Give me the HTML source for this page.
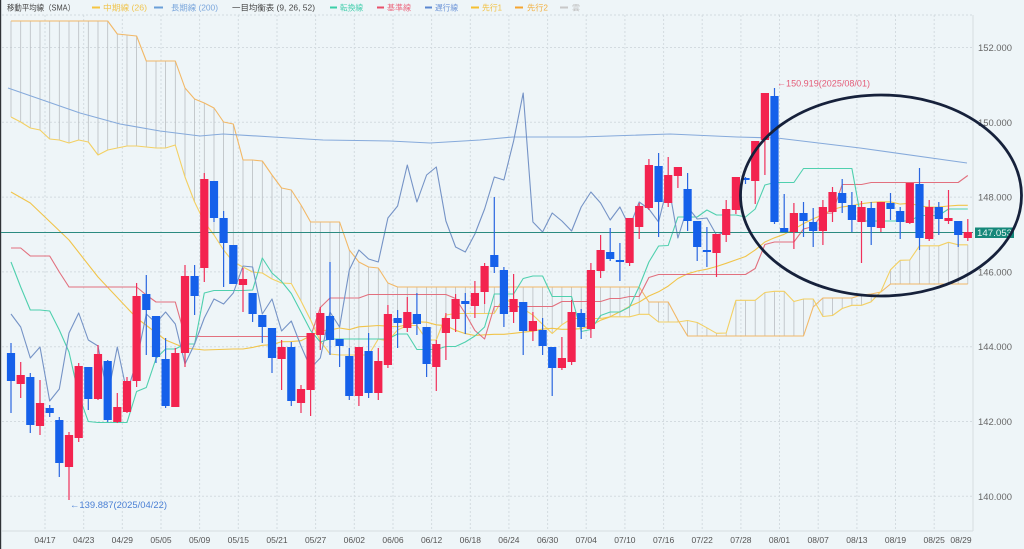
<!DOCTYPE html>
<html><head><meta charset="utf-8"><style>
html,body{margin:0;padding:0;background:#eef5f8;}
svg{display:block;font-family:"Liberation Sans","Noto Sans CJK JP",sans-serif;}
</style></head><body>
<svg width="1024" height="549" viewBox="0 0 1024 549" xmlns="http://www.w3.org/2000/svg">
<rect x="0" y="0" width="1024" height="549" fill="#eef5f8"/>
<rect x="0" y="0" width="1.2" height="549" fill="#2f3337"/>
<!-- grid -->
<g stroke="#d3dbe0" stroke-width="1" stroke-dasharray="2,2" fill="none">
<path d="M2 15H973 M2 47.5H973 M2 122.3H973 M2 197.1H973 M2 271.9H973 M2 346.7H973 M2 421.5H973 M2 496.3H973"/>
<path d="M45 15V531 M83.7 15V531 M122.3 15V531 M161 15V531 M199.6 15V531 M238.3 15V531 M277 15V531 M315.6 15V531 M354.3 15V531 M393 15V531 M431.6 15V531 M470.3 15V531 M508.9 15V531 M547.6 15V531 M586.2 15V531 M624.9 15V531 M663.6 15V531 M702.2 15V531 M740.9 15V531 M779.5 15V531 M818.2 15V531 M856.9 15V531 M895.5 15V531 M934.2 15V531"/>
</g>
<path d="M973 15V531 M2 531H973" stroke="#d6dde1" stroke-width="1" fill="none"/>
<!-- cloud hatch -->
<path stroke="#b9bec2" stroke-width="0.8" fill="none" d="M11 117V21 M20.7 122V21 M30.3 128V21 M40 130V21 M49.7 139V21 M59.3 140V21 M69 143V21 M78.7 140V21 M88.3 142V21 M98 155V21 M107.7 150V21 M117.3 148V34 M127 146V35 M136.6 146V36 M146.3 147V61 M156 148V61 M165.6 148V61 M175.3 145V61 M185 177V88 M194.6 202V99 M204.3 222V103 M214 235V108 M223.6 250V122 M233.3 262V124 M243 267V160 M252.6 272V160 M262.3 273V161 M272 279V175 M281.6 283V188 M291.3 283.5V190 M301 301V205 M310.6 320V222 M320.3 341V222 M330 354V222 M339.6 355V222 M349.3 355V250 M358.9 355V262 M368.6 355V267 M378.3 339V268 M387.9 341V283 M397.6 330V287 M407.3 325.5V287 M416.9 325.5V287 M426.6 340V287 M436.3 340V287 M445.9 315V287 M455.6 313.5V287 M465.3 313.5V287 M474.9 313.5V287 M484.6 313.5V287 M494.3 313.3V287 M503.9 297.3V287 M513.6 304.8V287 M523.2 309V287 M532.9 315V287 M542.6 324.3V287 M552.2 333.5V287 M561.9 324.8V287 M571.6 318.5V287 M581.2 318.5V287 M590.9 318.5V287 M600.6 318.5V287 M610.2 316.8V287 M619.9 316.8V287 M629.6 316.8V287 M639.2 314.3V287 M648.9 314.3V302 M658.6 322V302 M668.2 322V302 M677.9 322V320 M687.6 320.5V336 M697.2 322.5V336 M706.9 327.8V336 M716.5 333.3V336 M726.2 333V336 M735.9 300.3V336 M745.5 300.3V336 M755.2 300.3V336 M764.9 292.5V336 M774.5 291.3V336 M784.2 291.3V336 M793.9 301.5V336 M803.5 299V336 M813.2 299V307 M822.9 316.5V298 M832.5 315.5V298 M842.2 308.5V298 M851.9 305.3V298 M861.5 305.3V295 M871.2 301.8V294 M880.9 291.5V292 M890.5 269.8V284 M900.2 260.3V284 M909.8 260V284 M919.5 245.8V284 M929.2 245.8V284 M938.8 245.8V284 M948.5 242.3V284 M958.2 244.8V284 M967.8 244.8V284"/>
<g fill="none" stroke-width="1.1" stroke-linejoin="round">
<!-- Senkou B -->
<polyline stroke="#f2b866" points="11,21 107.7,21 117.3,34 127,35 136.6,36 146.3,61 175.3,61 185,88 194.6,99 204.3,103 214,108 223.6,122 233.3,124 243,160 252.6,160 262.3,161 272,175 281.6,188 291.3,190 301,205 310.6,222 339.6,222 349.3,250 358.9,262 368.6,267 378.3,268 387.9,283 397.6,287 639.2,287 648.9,302 668.2,302 677.9,320 687.6,336 803.5,336 813.2,307 822.9,298 851.9,298 861.5,295 871.2,294 880.9,292 890.5,284 967.8,284"/>
<!-- Senkou A -->
<polyline stroke="#f3d063" points="11,117 20.7,122 30.3,128 40,130 49.7,139 59.3,140 69,143 78.7,140 88.3,142 98,155 107.7,150 117.3,148 127,146 136.6,146 146.3,147 156,148 165.6,148 175.3,145 185,177 194.6,202 204.3,222 214,235 223.6,250 233.3,262 243,267 252.6,272 262.3,273 272,279 281.6,283 291.3,283.5 301,301 310.6,320 320.3,341 330,354 339.6,355 349.3,355 358.9,355 368.6,355 378.3,339 387.9,341 397.6,330 407.3,325.5 416.9,325.5 426.6,340 436.3,340 445.9,315 455.6,313.5 465.3,313.5 474.9,313.5 484.6,313.5 494.3,313.3 503.9,297.3 513.6,304.8 523.2,309 532.9,315 542.6,324.3 552.2,333.5 561.9,324.8 571.6,318.5 581.2,318.5 590.9,318.5 600.6,318.5 610.2,316.8 619.9,316.8 629.6,316.8 639.2,314.3 648.9,314.3 658.6,322 668.2,322 677.9,322 687.6,320.5 697.2,322.5 706.9,327.8 716.5,333.3 726.2,333 735.9,300.3 745.5,300.3 755.2,300.3 764.9,292.5 774.5,291.3 784.2,291.3 793.9,301.5 803.5,299 813.2,299 822.9,316.5 832.5,315.5 842.2,308.5 851.9,305.3 861.5,305.3 871.2,301.8 880.9,291.5 890.5,269.8 900.2,260.3 909.8,260 919.5,245.8 929.2,245.8 938.8,245.8 948.5,242.3 958.2,244.8 967.8,244.8"/>
<!-- SMA200 -->
<polyline stroke="#86aadb" points="8,88 80,113 120,124 160,131 200,136 223,134 273,137 323,140 390,141 430,143 480,140 513,137 580,137 670,134 737,137 777,138 860,148 967,163"/>
<!-- SMA26 -->
<polyline stroke="#f1c44a" points="11,192 30.3,203 69,240 98,277 136.6,318 165.6,340 185,348 204.3,350 233.3,349 243,349 252.6,347.4 262.3,345.3 272,344.7 281.6,341.7 291.3,341.6 301,340.7 310.6,335.7 320.3,331 330,330 339.6,328 349.3,329.6 358.9,326.8 368.6,326.2 378.3,325.5 387.9,326.2 397.6,326.7 407.3,324.9 416.9,321.8 426.6,322.2 436.3,324.8 445.9,325.7 455.6,330.3 465.3,333.6 474.9,335.5 484.6,334.8 494.3,334.3 503.9,334.3 513.6,333.3 523.2,332.2 532.9,331.2 542.6,329.1 552.2,328.3 561.9,329.3 571.6,329.2 581.2,328.7 590.9,325.8 600.6,320.2 610.2,316.8 619.9,311.8 629.6,306.3 639.2,302.1 648.9,296 658.6,291.8 668.2,286.1 677.9,278.5 687.6,273.8 697.2,271 706.9,269.2 716.5,266.5 726.2,263.3 735.9,259.9 745.5,256.5 755.2,249.9 764.9,242 774.5,237.8 784.2,234.3 793.9,229.2 803.5,223.6 813.2,218.7 822.9,214.7 832.5,209.5 842.2,206.9 851.9,205.7 861.5,203.7 871.2,202.4 880.9,201.8 890.5,201.9 900.2,204.1 909.8,203.3 919.5,205.8 929.2,207.2 938.8,207.1 948.5,206 958.2,205.3 967.8,205.3"/>
<!-- Kijun -->
<polyline stroke="#e2707e" points="11,248 20.7,248 30.3,256 40,256 49.7,256 59.3,272 69,287 136.6,287 146.3,295 156,302 175.3,302 185,336.5 310.6,336.5 320.3,307.5 330,298 358.9,298 368.6,294.5 445.9,294.5 455.6,298.5 465.3,313.5 474.9,330.5 484.6,339 494.3,306.5 552.2,306.5 561.9,301.5 600.6,301.5 610.2,298.5 619.9,298.5 629.6,296.5 639.2,296.5 648.9,277.5 658.6,274.5 745.5,274.5 755.2,268.5 764.9,244.5 774.5,242 793.9,242 803.5,229 813.2,226.5 822.9,213.5 832.5,213 842.2,184.5 861.5,184.5 871.2,182.5 958.2,182.5 967.8,175.5"/>
<!-- Tenkan -->
<polyline stroke="#4fd0ae" points="11,262 20.7,287 30.3,310 40,310 49.7,311 59.3,330 69,352 78.7,395 88.3,421.5 98,422.5 127,422.5 136.6,391.5 146.3,387.5 156,358.5 165.6,349 175.3,349 185,344 194.6,344 204.3,293 214,290.5 243,290.5 252.6,290 262.3,258 272,273 281.6,281.5 291.3,293.5 301,312 310.6,330.5 320.3,342 330,339 387.9,339 397.6,334 407.3,334 416.9,349.5 436.3,349.5 445.9,346.5 455.6,346.5 465.3,342 474.9,336 484.6,327 494.3,294 513.6,294 523.2,278.5 532.9,276 542.6,276 552.2,296.5 571.6,296.5 581.2,331.5 590.9,329.5 600.6,315.5 610.2,312 619.9,312 629.6,307 639.2,286.5 648.9,262 658.6,246 668.2,245.5 677.9,217 697.2,217 706.9,210 716.5,215 735.9,215 745.5,217 755.2,209 764.9,185 774.5,182.5 793.9,182.5 803.5,168.5 851.9,168.5 861.5,221 909.8,221 919.5,215.5 938.8,215.5 948.5,209 967.8,209"/>
<!-- Chikou -->
<polyline stroke="#7593c6" points="11,314 20.7,327 30.3,358 40,347 49.7,401 59.3,389 69,333 78.7,313 88.3,340 98,346 107.7,396 117.3,347 127,393 136.6,361 146.3,314 156,323 165.6,312 175.3,324 185,364 194.6,344 204.3,318 214,299 223.6,304 233.3,293 243,266 252.6,267 262.3,314 272,299 281.6,331 291.3,321 301,346 310.6,368 320.3,358 330,312 339.6,327 349.3,270 358.9,250 368.6,259 378.3,262 387.9,218 397.6,206 407.3,165 416.9,202 426.6,175 436.3,167 445.9,221 455.6,247 465.3,252 474.9,234 484.6,209 494.3,177 503.9,180 513.6,141 523.2,93 532.9,222 542.6,232 552.2,213 561.9,221 571.6,231 581.2,207 590.9,192 600.6,203 610.2,220 619.9,207 629.6,227 639.2,202 648.9,209 658.6,222 668.2,183 677.9,238 687.6,207 697.2,219 706.9,218 716.5,235 726.2,232"/>
</g>
<!-- current price line -->
<path d="M1 232.5H973" stroke="#2b8a80" stroke-width="1"/>
<!-- candles -->
<path stroke="#f0305a" stroke-width="1.2" fill="none" d="M20.7 362V398 M40 380V435 M69 432V500 M78.7 363V442 M98 345V400 M117.3 393V423 M127 377V413 M136.6 283V387 M175.3 348V407 M185 265V367 M204.3 173V282 M243 268V312 M281.6 340V390 M301 385V413 M310.6 333V416 M320.3 307V350 M358.9 347V406 M378.3 348V400 M387.9 305V368 M407.3 297V332 M436.3 340V391 M445.9 313V360 M455.6 294V332 M474.9 281V318 M484.6 263V304 M513.6 274V323 M532.9 312V341 M561.9 337V370 M571.6 300V365 M590.9 263V338 M600.6 235V278 M629.6 218V266 M639.2 203V239 M648.9 159V210 M668.2 157V207 M677.9 167V188 M716.5 234V277 M726.2 200V242 M735.9 177V214 M755.2 141V204 M764.9 93V175 M793.9 203V249 M822.9 200V245 M832.5 187V222 M861.5 201V263 M880.9 202V232 M909.8 183V224 M929.2 200V241 M948.5 190V224 M967.8 219V241"/>
<path stroke="#2a66e0" stroke-width="1.2" fill="none" d="M11 343V413 M30.3 373V433 M49.7 405V417 M59.3 417V477 M88.3 367V410 M107.7 360V422 M146.3 275V355 M156 316V363 M165.6 338V408 M194.6 265V315 M214 181V222 M223.6 211V287 M233.3 245V284 M252.6 293V322 M262.3 315V343 M272 328V373 M291.3 342V406 M330 262V355 M339.6 339V367 M349.3 348V400 M368.6 333V398 M397.6 310V348 M416.9 293V335 M426.6 327V377 M465.3 293V334 M494.3 197V273 M503.9 267V327 M523.2 302V355 M542.6 318V355 M552.2 347V396 M581.2 309V339 M610.2 228V261 M619.9 243V281 M658.6 153V237 M687.6 173V231 M697.2 221V261 M706.9 227V267 M745.5 177V184 M774.5 88V224 M784.2 194V232 M803.5 202V237 M813.2 208V247 M842.2 179V213 M851.9 192V232 M871.2 202V245 M890.5 193V220 M900.2 207V239 M919.5 168V250 M938.8 202V235 M958.2 221V247"/>
<path fill="#f3234f" d="M16.6 375h8.2V384h-8.2Z M35.9 403h8.2V426h-8.2Z M64.9 435h8.2V467h-8.2Z M74.6 366h8.2V438h-8.2Z M93.9 354h8.2V399h-8.2Z M113.2 407h8.2V422h-8.2Z M122.9 381h8.2V412h-8.2Z M132.5 296h8.2V381h-8.2Z M171.2 353h8.2V407h-8.2Z M180.9 276h8.2V353h-8.2Z M200.2 179h8.2V268h-8.2Z M238.9 279h8.2V285h-8.2Z M277.5 347h8.2V359h-8.2Z M296.9 389h8.2V403h-8.2Z M306.5 333h8.2V390h-8.2Z M316.2 313h8.2V335h-8.2Z M354.8 347h8.2V396h-8.2Z M374.2 361h8.2V393h-8.2Z M383.8 314h8.2V365h-8.2Z M403.2 312h8.2V328h-8.2Z M432.2 344h8.2V367h-8.2Z M441.8 318h8.2V333h-8.2Z M451.5 299h8.2V319h-8.2Z M470.8 293h8.2V306h-8.2Z M480.5 266h8.2V292h-8.2Z M509.5 299h8.2V312h-8.2Z M528.8 321h8.2V331h-8.2Z M557.8 358h8.2V368h-8.2Z M567.5 312h8.2V362h-8.2Z M586.8 270h8.2V329h-8.2Z M596.5 250h8.2V271h-8.2Z M625.5 218h8.2V263h-8.2Z M635.1 206h8.2V227h-8.2Z M644.8 165h8.2V208h-8.2Z M664.1 175h8.2V203h-8.2Z M673.8 167h8.2V176h-8.2Z M712.4 234h8.2V253h-8.2Z M722.1 209h8.2V235h-8.2Z M731.8 177h8.2V210h-8.2Z M751.1 141h8.2V181h-8.2Z M760.8 93h8.2V140h-8.2Z M789.8 213h8.2V232h-8.2Z M818.8 207h8.2V231h-8.2Z M828.4 192h8.2V212h-8.2Z M857.4 207h8.2V222h-8.2Z M876.8 202h8.2V228h-8.2Z M905.7 183h8.2V223h-8.2Z M925.1 207h8.2V239h-8.2Z M944.4 218h8.2V221h-8.2Z M963.7 232h8.2V238h-8.2Z"/>
<path fill="#1560ea" d="M6.9 353h8.2V381h-8.2Z M26.2 377h8.2V425h-8.2Z M45.6 408h8.2V413h-8.2Z M55.2 420h8.2V463h-8.2Z M84.2 367h8.2V399h-8.2Z M103.6 361h8.2V420h-8.2Z M142.2 294h8.2V310h-8.2Z M151.9 316h8.2V357h-8.2Z M161.5 359h8.2V406h-8.2Z M190.5 276h8.2V296h-8.2Z M209.9 181h8.2V218h-8.2Z M219.5 218h8.2V243h-8.2Z M229.2 245h8.2V284h-8.2Z M248.5 293h8.2V314h-8.2Z M258.2 315h8.2V327h-8.2Z M267.9 328h8.2V358h-8.2Z M287.2 347h8.2V401h-8.2Z M325.9 316h8.2V340h-8.2Z M335.5 339h8.2V346h-8.2Z M345.2 356h8.2V396h-8.2Z M364.5 351h8.2V393h-8.2Z M393.5 318h8.2V323h-8.2Z M412.8 314h8.2V324h-8.2Z M422.5 327h8.2V364h-8.2Z M461.2 301h8.2V304h-8.2Z M490.2 255h8.2V267h-8.2Z M499.8 270h8.2V314h-8.2Z M519.1 302h8.2V331h-8.2Z M538.5 330h8.2V346h-8.2Z M548.1 347h8.2V368h-8.2Z M577.1 313h8.2V327h-8.2Z M606.1 252h8.2V259h-8.2Z M615.8 260h8.2V262h-8.2Z M654.5 166h8.2V202h-8.2Z M683.5 189h8.2V221h-8.2Z M693.1 221h8.2V247h-8.2Z M702.8 250h8.2V252h-8.2Z M741.4 178h8.2V180h-8.2Z M770.4 96h8.2V222h-8.2Z M780.1 228h8.2V232h-8.2Z M799.4 213h8.2V221h-8.2Z M809.1 222h8.2V231h-8.2Z M838.1 193h8.2V203h-8.2Z M847.8 205h8.2V220h-8.2Z M867.1 208h8.2V227h-8.2Z M886.4 203h8.2V209h-8.2Z M896.1 211h8.2V222h-8.2Z M915.4 184h8.2V238h-8.2Z M934.7 207h8.2V219h-8.2Z M954.1 221h8.2V235h-8.2Z"/>
<!-- annotations -->
<text x="777" y="86.5" font-size="9.5" fill="#e45c78" textLength="93" lengthAdjust="spacingAndGlyphs">←150.919(2025/08/01)</text>
<text x="70" y="508" font-size="9.5" fill="#4a7fd4" textLength="97" lengthAdjust="spacingAndGlyphs">←139.887(2025/04/22)</text>
<!-- y axis labels -->
<g font-size="9.5" fill="#666">
<text x="978" y="51" textLength="34" lengthAdjust="spacingAndGlyphs">152.000</text>
<text x="978" y="125.8" textLength="34" lengthAdjust="spacingAndGlyphs">150.000</text>
<text x="978" y="200.6" textLength="34" lengthAdjust="spacingAndGlyphs">148.000</text>
<text x="978" y="275.4" textLength="34" lengthAdjust="spacingAndGlyphs">146.000</text>
<text x="978" y="350.2" textLength="34" lengthAdjust="spacingAndGlyphs">144.000</text>
<text x="978" y="425" textLength="34" lengthAdjust="spacingAndGlyphs">142.000</text>
<text x="978" y="499.8" textLength="34" lengthAdjust="spacingAndGlyphs">140.000</text>
</g>
<rect x="975" y="227.5" width="39" height="10.5" fill="#15887a"/>
<text x="977" y="236" font-size="9" fill="#e6f4f1" textLength="35" lengthAdjust="spacingAndGlyphs">147.053</text>
<!-- x axis labels -->
<g font-size="8.5" fill="#555" text-anchor="middle">
<text x="45" y="543">04/17</text><text x="83.7" y="543">04/23</text><text x="122.3" y="543">04/29</text><text x="161" y="543">05/05</text><text x="199.6" y="543">05/09</text><text x="238.3" y="543">05/15</text><text x="277" y="543">05/21</text><text x="315.6" y="543">05/27</text><text x="354.3" y="543">06/02</text><text x="393" y="543">06/06</text><text x="431.6" y="543">06/12</text><text x="470.3" y="543">06/18</text><text x="508.9" y="543">06/24</text><text x="547.6" y="543">06/30</text><text x="586.2" y="543">07/04</text><text x="624.9" y="543">07/10</text><text x="663.6" y="543">07/16</text><text x="702.2" y="543">07/22</text><text x="740.9" y="543">07/28</text><text x="779.5" y="543">08/01</text><text x="818.2" y="543">08/07</text><text x="856.9" y="543">08/13</text><text x="895.5" y="543">08/19</text><text x="934.2" y="543">08/25</text><text x="961" y="543">08/29</text>
</g>
<!-- legend -->
<g font-size="8">
<text x="7" y="10.5" fill="#444" textLength="68" lengthAdjust="spacingAndGlyphs">移動平均線（SMA）</text>
<rect x="92" y="6.5" width="8" height="2" fill="#f5c542"/>
<text x="103" y="10.5" fill="#f0c550" textLength="44" lengthAdjust="spacingAndGlyphs">中期線 (26)</text>
<rect x="154" y="6.5" width="9" height="2" fill="#6a9fd8"/>
<text x="171" y="10.5" fill="#7aa6dc" textLength="47" lengthAdjust="spacingAndGlyphs">長期線 (200)</text>
<text x="232" y="10.5" fill="#444" textLength="83" lengthAdjust="spacingAndGlyphs">一目均衡表 (9, 26, 52)</text>
<rect x="330" y="6.5" width="7" height="2" fill="#3ccfa8"/>
<text x="340" y="10.5" fill="#46cfae" textLength="23" lengthAdjust="spacingAndGlyphs">転換線</text>
<rect x="377" y="6.5" width="7" height="2" fill="#e8506a"/>
<text x="387" y="10.5" fill="#ec6a80" textLength="24" lengthAdjust="spacingAndGlyphs">基準線</text>
<rect x="425" y="6.5" width="7" height="2" fill="#5a86d0"/>
<text x="435" y="10.5" fill="#6f96d8" textLength="23" lengthAdjust="spacingAndGlyphs">遅行線</text>
<rect x="471" y="6.5" width="8" height="2" fill="#f5c030"/>
<text x="482" y="10.5" fill="#f2c040" textLength="20" lengthAdjust="spacingAndGlyphs">先行1</text>
<rect x="515" y="6.5" width="8" height="2" fill="#f5a530"/>
<text x="527" y="10.5" fill="#f2b040" textLength="21" lengthAdjust="spacingAndGlyphs">先行2</text>
<rect x="560" y="6.5" width="8" height="2" fill="#c8c8c8"/>
<text x="572" y="10.5" fill="#c0c0c0" textLength="8" lengthAdjust="spacingAndGlyphs">雲</text>
</g>
<!-- highlight ellipse -->
<ellipse cx="881" cy="195.5" rx="140.5" ry="100.5" fill="none" stroke="#16213b" stroke-width="2.8"/>
</svg>
</body></html>
